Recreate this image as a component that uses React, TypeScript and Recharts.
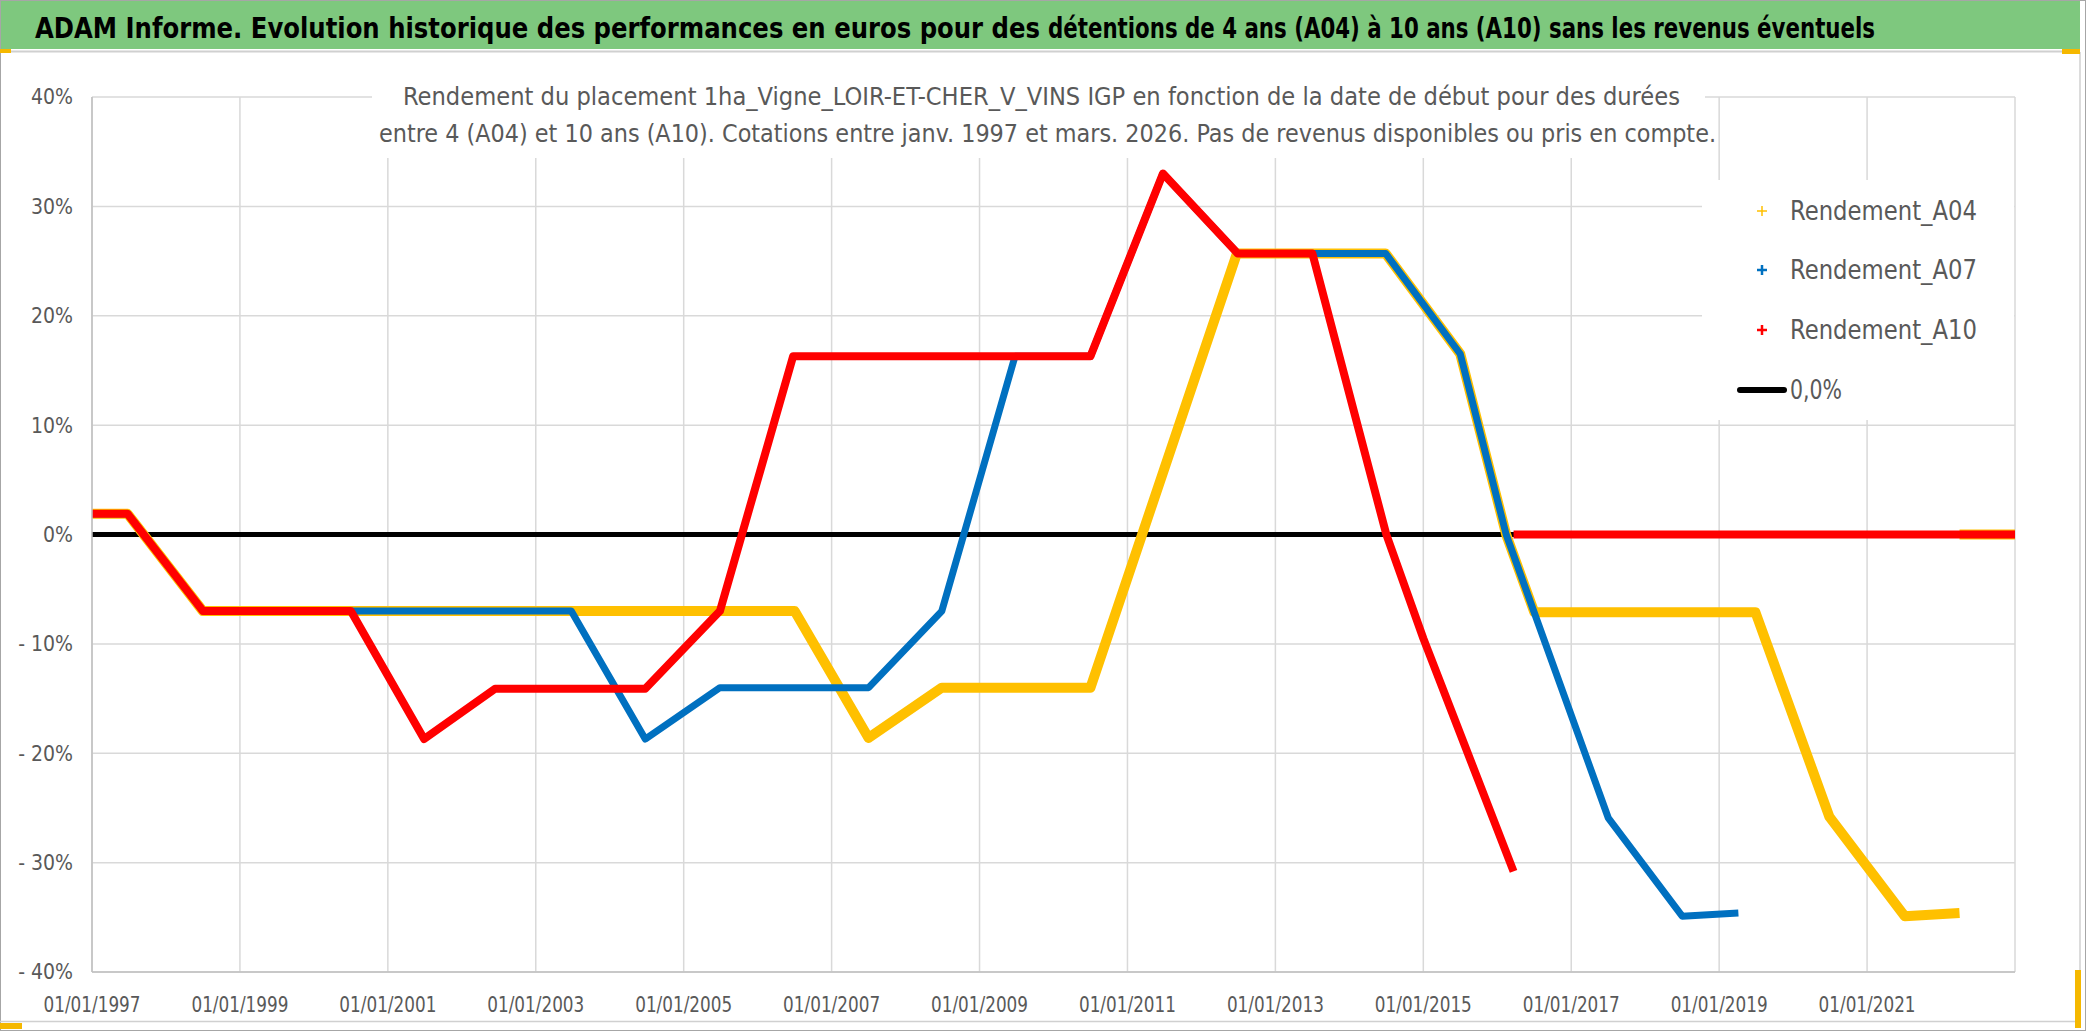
import { CartesianGrid, Legend, Line, LineChart, XAxis, YAxis } from "recharts";

// x = start date as decimal year, v = return in %
const a04Dates = [1997.0, 1997.48, 1998.5, 2006.5, 2007.5, 2008.49, 2010.5, 2012.48, 2014.49, 2015.5, 2016.12, 2016.5, 2019.49, 2020.49, 2021.51, 2022.25, 2022.25, 2022.25, 2023.0];
const a04Values = [1.9, 1.9, -7.0, -7.0, -18.6, -14.0, -14.0, 25.7, 25.7, 16.5, 0.0, -7.1, -7.1, -25.8, -34.9, -34.6, null, 0.0, 0.0];

const a07Dates = [1997.0, 1997.48, 1998.5, 2003.48, 2004.48, 2005.49, 2007.5, 2008.49, 2009.48, 2010.5, 2011.48, 2012.49, 2014.49, 2015.5, 2016.12, 2017.5, 2018.5, 2019.26];
const a07Values = [1.9, 1.9, -7.0, -7.0, -18.7, -14.0, -14.0, -7.0, 16.3, 16.3, 33.0, 25.7, 25.7, 16.5, 0.0, -25.9, -34.9, -34.6];

const a10Dates = [1997.0, 1997.48, 1998.5, 2000.5, 2001.49, 2002.45, 2004.48, 2005.49, 2006.48, 2010.5, 2011.48, 2012.49, 2013.5, 2014.5, 2015.0, 2016.22, 2016.22, 2016.22, 2023.0];
const a10Values = [1.9, 1.9, -7.0, -7.0, -18.7, -14.1, -14.1, -7.0, 16.3, 16.3, 33.0, 25.7, 25.7, 0.0, -9.5, -30.8, null, 0.0, 0.0];

const zeroDates = [1997.0, 2023.0];
const zeroValues = [0, 0];

const xTicks = [1997, 1999, 2001, 2003, 2005, 2007, 2009, 2011, 2013, 2015, 2017, 2019, 2021];
const yTicks = [-40, -30, -20, -10, 0, 10, 20, 30, 40];

const legendOrder = ["Rendement_A04", "Rendement_A07", "Rendement_A10", "0,0%"];

const titleA = "ADAM Informe. Evolution historique des performances en euros pour des";
const titleB = "détentions de 4 ans (A04) à 10 ans (A10) sans les revenus éventuels";
const subtitle1 =
  "Rendement du placement 1ha_Vigne_LOIR-ET-CHER_V_VINS IGP en fonction de la date de début pour des durées";
const subtitle2 =
  "entre 4 (A04) et 10 ans (A10). Cotations entre janv. 1997 et mars. 2026. Pas de revenus disponibles ou pris en compte.";

const toRows = (xs: number[], vs: (number | null)[]) => xs.map((x, i) => ({ x, v: vs[i] }));

const a04 = toRows(a04Dates, a04Values);
const a07 = toRows(a07Dates, a07Values);
const a10 = toRows(a10Dates, a10Values);
const zero = toRows(zeroDates, zeroValues);

const narrow = "'Liberation Sans Narrow', 'DejaVu Sans Condensed', 'Liberation Sans', sans-serif";
const grey = "#595959";

const XTick = (props: any) => {
  const { x, y, payload } = props;
  return (
    <text
      x={x}
      y={y}
      dy="0.355em"
      textAnchor="middle"
      fill={grey}
      fontSize={22}
      fontFamily={narrow}
      textLength={97}
      lengthAdjust="spacingAndGlyphs"
    >
      {`01/01/${payload.value}`}
    </text>
  );
};

const fmtPct = (v: number) => (v < 0 ? `- ${Math.abs(v)}%` : `${v}%`);

const YTick = (props: any) => {
  const { x, y, payload } = props;
  return (
    <text x={x} y={y} dy="0.355em" textAnchor="end" fill={grey} fontSize={21} fontFamily={narrow}>
      {fmtPct(payload.value)}
    </text>
  );
};

const LegendBox = (props: any) => {
  const payload = props.payload || [];
  const items = legendOrder
    .map((n) => payload.find((p: any) => p.value === n))
    .filter(Boolean);
  const rows = [31, 90, 150, 210];
  return (
    <svg width={312} height={240}>
      {items.map((item: any, i: number) => {
        const cy = rows[i];
        const isLine = item.value === "0,0%";
        return (
          <g key={item.value}>
            {isLine ? (
              <line x1={38} x2={82} y1={cy} y2={cy} stroke="#000" strokeWidth={6} strokeLinecap="round" />
            ) : (
              <path
                d={`M${55},${cy} h10 M${60},${cy - 5} v10`}
                stroke={item.color}
                strokeWidth={i === 0 ? 1.5 : 2.5}
              />
            )}
            <text
              x={88}
              y={cy}
              dy="0.355em"
              fill={grey}
              fontSize={26}
              fontFamily={narrow}
              textLength={isLine ? 52 : 187}
              lengthAdjust="spacingAndGlyphs"
            >
              {item.value}
            </text>
          </g>
        );
      })}
    </svg>
  );
};

const App = () => {
  return (
    <div style={{ position: "absolute", left: 0, top: 0, width: 2086, height: 1031, background: "#fff" }}>
      <LineChart width={2086} height={1031} margin={{ top: 97, right: 71, bottom: 19, left: 12 }}>
        <CartesianGrid stroke="#D9D9D9" strokeWidth={1.5} />
        <XAxis
          type="number"
          dataKey="x"
          domain={[1997, 2023]}
          ticks={xTicks}
          interval={0}
          allowDataOverflow
          height={40}
          tickSize={0}
          tickMargin={32}
          tickLine={false}
          axisLine={{ stroke: "#BFBFBF", strokeWidth: 1.5 }}
          tick={<XTick />}
        />
        <YAxis
          type="number"
          domain={[-40, 40]}
          ticks={yTicks}
          interval={0}
          width={80}
          tickSize={0}
          tickMargin={19}
          tickLine={false}
          axisLine={{ stroke: "#BFBFBF", strokeWidth: 1.5 }}
          tick={<YTick />}
        />
        <Legend
          layout="vertical"
          align="center"
          verticalAlign="middle"
          content={<LegendBox />}
          wrapperStyle={{ left: 1702, top: 180, width: 312, height: 240, background: "#fff" }}
        />
        <Line
          data={zero}
          dataKey="v"
          name="0,0%"
          type="linear"
          stroke="#000000"
          strokeWidth={5}
          strokeLinecap="round"
          dot={false}
          activeDot={false}
          isAnimationActive={false}
        />
        <Line
          data={a04}
          dataKey="v"
          name="Rendement_A04"
          type="linear"
          stroke="#FFC000"
          strokeWidth={10}
          strokeLinejoin="round"
          dot={false}
          activeDot={false}
          isAnimationActive={false}
        />
        <Line
          data={a07}
          dataKey="v"
          name="Rendement_A07"
          type="linear"
          stroke="#0070C0"
          strokeWidth={7}
          strokeLinejoin="round"
          dot={false}
          activeDot={false}
          isAnimationActive={false}
        />
        <Line
          data={a10}
          dataKey="v"
          name="Rendement_A10"
          type="linear"
          stroke="#FF0000"
          strokeWidth={8}
          strokeLinejoin="round"
          dot={false}
          activeDot={false}
          isAnimationActive={false}
        />
      </LineChart>
      <svg
        width={2086}
        height={1031}
        style={{ position: "absolute", left: 0, top: 0, pointerEvents: "none" }}
      >
        <rect x={0.5} y={0.5} width={2085} height={1030} fill="none" stroke="#A6A6A6" />
        <rect x={1} y={1} width={2079} height={48} fill="#7EC87E" />
        <line x1={0} x2={2080} y1={51.5} y2={51.5} stroke="#D0D0D0" strokeWidth={2} />
        <text
          x={35}
          y={38}
          fill="#000"
          fontSize={29}
          fontWeight="bold"
          fontFamily={narrow}
          textLength={1005}
          lengthAdjust="spacingAndGlyphs"
        >
          {titleA}
        </text>
        <text
          x={1048}
          y={38}
          fill="#000"
          fontSize={29}
          fontWeight="bold"
          fontFamily={narrow}
          textLength={827}
          lengthAdjust="spacingAndGlyphs"
        >
          {titleB}
        </text>
        <rect x={372} y={53} width={1333} height={105} fill="#fff" />
        <text x={403} y={105} fill={grey} fontSize={25} fontFamily={narrow} textLength={1277} lengthAdjust="spacingAndGlyphs">
          {subtitle1}
        </text>
        <text x={379} y={142} fill={grey} fontSize={25} fontFamily={narrow} textLength={1337} lengthAdjust="spacingAndGlyphs">
          {subtitle2}
        </text>
        <line x1={2080} x2={2080} y1={52} y2={1022} stroke="#D0D0D0" strokeWidth={1.5} />
        <line x1={0} x2={2080} y1={1021.5} y2={1021.5} stroke="#D0D0D0" strokeWidth={1.5} />
        <rect x={0} y={49} width={11} height={4} fill="#F5B800" />
        <rect x={2062} y={49} width={18} height={5} fill="#F5B800" />
        <rect x={0} y={1023} width={22} height={6} fill="#F5B800" />
        <rect x={2075} y={970} width={6} height={58} fill="#F5B800" />
      </svg>
    </div>
  );
};

export default App;
